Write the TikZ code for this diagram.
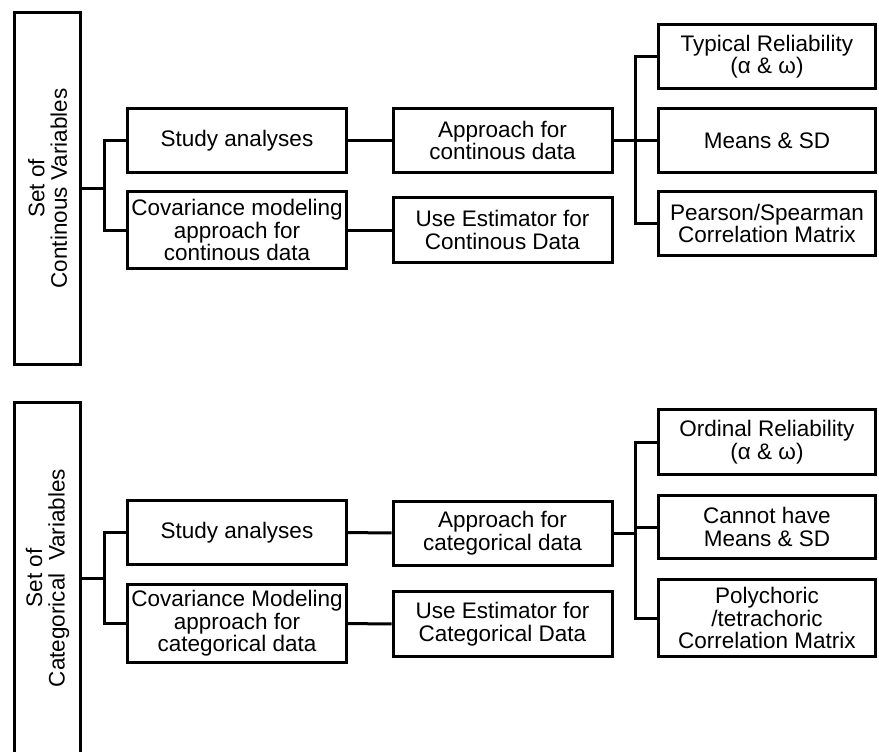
\documentclass[tikz,border=0pt]{standalone}
\usepackage{fontspec}
\setmainfont{Liberation Sans}
\usepackage{tikz}
\usetikzlibrary{calc}

\tikzset{
  box/.style={rectangle, draw=black, line width=3pt, inner sep=0pt,
              align=center, font=\fontsize{22.5}{22.5}\selectfont},
  setbox/.style={box, minimum width=66pt},
  midbox/.style={box, minimum width=219pt},
  resbox/.style={box, minimum width=217pt},
  link/.style={line width=3pt}
}

\begin{document}
\begin{tikzpicture}[x=1pt, y=-1pt]
  \useasboundingbox (0,0) rectangle (879,752);

  % continous variables
  \node[setbox, minimum height=352pt] (cset) at (47.5,188.5){};
  \node[rotate=90, align=center, font=\fontsize{22.5}{22.5}\selectfont]
        (csettext) at (cset.center){Set of\\Continous Variables};
  \node[midbox, minimum height=64pt] (cstudy) at (237,140.5){Study analyses};
  \node[midbox, minimum height=77pt] (ccov) at (237,230)
        {Covariance modeling\\approach for\\continous data};
  \node[midbox, minimum height=64pt] (capp) at (502.5,140.5)
        {Approach for\\continous data};
  \node[midbox, minimum height=65pt] (cest) at (502.5,230)
        {Use Estimator for\\Continous Data};
  \node[resbox, minimum height=64pt] (crel) at (767,56.5)
        {Typical Reliability\\(α \& ω)};
  \node[resbox, minimum height=64pt] (cmean) at (767,140.5){Means \& SD};
  \node[resbox, minimum height=64pt] (cpear) at (767,223.5)
        {Pearson/Spearman\\Correlation Matrix};

  \coordinate (cforkl) at ($(cset.east)!.5!(cstudy.west |- cset.east)$);
  \coordinate (cforkr) at ($(capp.east)!.5!(cmean.west)$);
  \draw[link] (cset.east) -- (cforkl);
  \draw[link] (cstudy.west) -| (cforkl) |- (ccov.west);
  \draw[link] (cstudy) -- (capp);
  \draw[link] (ccov) -- (cest);
  \draw[link] (capp.east) -- (cforkr);
  \draw[link] (crel.west) -| (cforkr) |- (cpear.west);
  \draw[link] (cforkr) -- (cmean.west);

  % categorical variables
  \node[setbox, minimum height=352pt] (kset) at (47.5,578){};
  \node[rotate=90, align=center, font=\fontsize{22.5}{22.5}\selectfont]
        (ksettext) at (kset.center){Set of\\Categorical\ \ Variables};
  \node[midbox, minimum height=64pt] (kstudy) at (237,532.5){Study analyses};
  \node[midbox, minimum height=78pt] (kcov) at (237,623.5)
        {Covariance Modeling\\approach for\\categorical data};
  \node[midbox, minimum height=64pt] (kapp) at (502.5,533)
        {Approach for\\categorical data};
  \node[midbox, minimum height=65pt] (kest) at (502.5,624)
        {Use Estimator for\\Categorical Data};
  \node[resbox, minimum height=65pt] (krel) at (767,442)
        {Ordinal Reliability\\(α \& ω)};
  \node[resbox, minimum height=63pt] (kcan) at (767,527)
        {Cannot have\\Means \& SD};
  \node[resbox, minimum height=77pt] (kpoly) at (767,618)
        {Polychoric\\/tetrachoric\\Correlation Matrix};

  \coordinate (kforkl) at ($(kset.east)!.5!(kstudy.west |- kset.east)$);
  \coordinate (kforkr) at ($(kapp.east)!.5!(kcan.west |- kapp.east)$);
  \draw[link] (kset.east) -- (kforkl);
  \draw[link] (kstudy.west) -| (kforkl) |- (kcov.west);
  \draw[link] (kstudy) -- (kapp);
  \draw[link] (kcov) -- (kest);
  \draw[link] (kapp.east) -- (kforkr);
  \draw[link] (krel.west) -| (kforkr) |- (kpoly.west);
  \draw[link] (kcan.west) -- (kcan.west -| kforkr);
\end{tikzpicture}
\end{document}
